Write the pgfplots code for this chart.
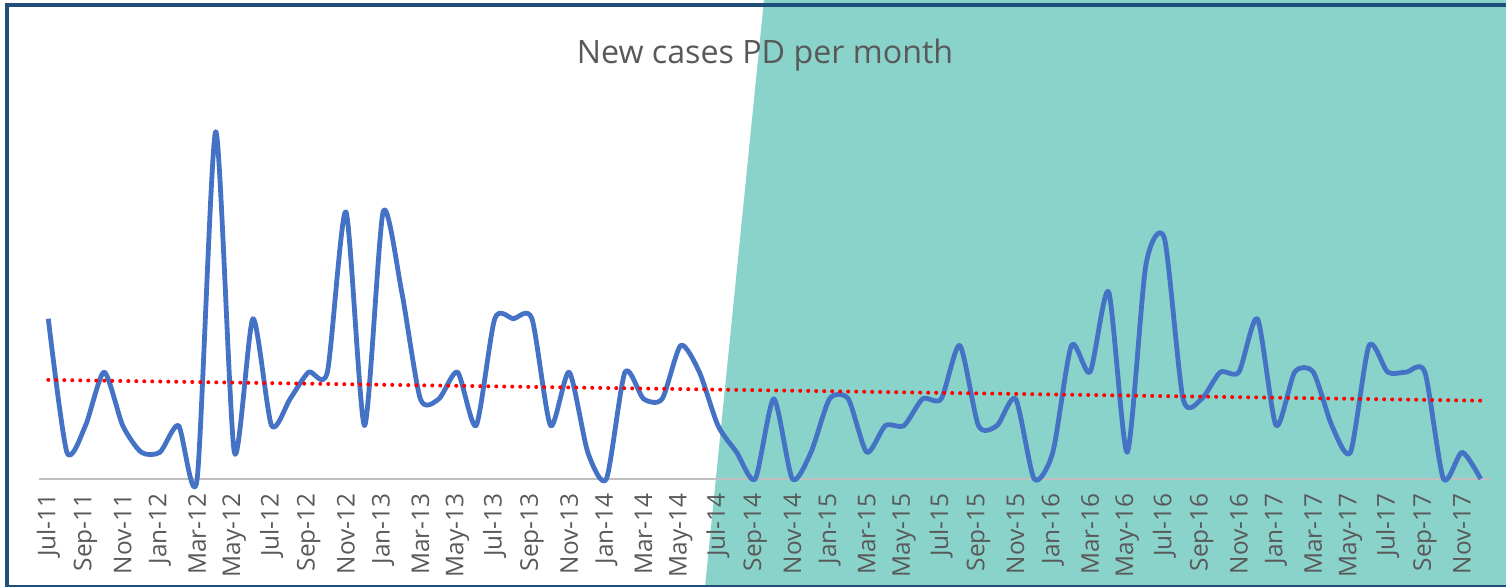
\documentclass[border=0pt]{standalone}
\usepackage{fontspec}
\setmainfont{Open Sans}
\usepackage{pgfplots}
\usepackage{pgfplotstable}
\pgfplotsset{compat=1.18}

\definecolor{bgTeal}{HTML}{8AD3CB}
\definecolor{frameBlue}{HTML}{1F4E79}
\definecolor{lineBlue}{HTML}{4472C4}
\definecolor{trendRed}{HTML}{FF0000}
\definecolor{axisGray}{HTML}{BFBFBF}
\definecolor{textGray}{HTML}{595959}

% new PD cases per month, Jul-11 (i=0) to Dec-17 (i=77)
\pgfplotstableread{
i v
0 6
1 1
2 2
3 4
4 2
5 1
6 1
7 2
8 0
9 13
10 1
11 6
12 2
13 3
14 4
15 4
16 10
17 2
18 10
19 7
20 3
21 3
22 4
23 2
24 6
25 6
26 6
27 2
28 4
29 1
30 0
31 4
32 3
33 3
34 5
35 4
36 2
37 1
38 0
39 3
40 0
41 1
42 3
43 3
44 1
45 2
46 2
47 3
48 3
49 5
50 2
51 2
52 3
53 0
54 1
55 5
56 4
57 7
58 1
59 8
60 9
61 3
62 3
63 4
64 4
65 6
66 2
67 4
68 4
69 2
70 1
71 5
72 4
73 4
74 4
75 0
76 1
77 0
}\pdcases

\begin{document}
\begin{tikzpicture}[x=1pt,y=1pt]
\useasboundingbox (0,0) rectangle (753,293.5);
% background split and frame
\fill[bgTeal] (382,293.5) -- (352.5,0) -- (753,0) -- (753,293.5) -- cycle;
\fill[frameBlue] (2.5,290) rectangle (753,292);
\fill[frameBlue] (2.5,0) rectangle (4.5,292);
\fill[frameBlue] (2.5,0) rectangle (753,1);

\begin{axis}[
    at={(19.5pt,54pt)}, anchor=south west,
    scale only axis,
    width=725.5pt, height=187pt,
    xmin=-0.5, xmax=77.5,
    ymin=0, ymax=14,
    axis y line=none,
    axis x line*=bottom,
    x axis line style={draw=axisGray, line width=1pt, -},
    xtick={0,2,...,76},
    xticklabels={Jul-11,Sep-11,Nov-11,Jan-12,Mar-12,May-12,Jul-12,Sep-12,Nov-12,
        Jan-13,Mar-13,May-13,Jul-13,Sep-13,Nov-13,Jan-14,Mar-14,May-14,Jul-14,
        Sep-14,Nov-14,Jan-15,Mar-15,May-15,Jul-15,Sep-15,Nov-15,Jan-16,Mar-16,
        May-16,Jul-16,Sep-16,Nov-16,Jan-17,Mar-17,May-17,Jul-17,Sep-17,Nov-17},
    major tick length=0pt,
    xticklabel shift=7pt,
    xticklabel style={rotate=90, anchor=east, inner sep=0pt,
        font=\fontsize{12.2}{13}\selectfont, text=textGray},
    clip=false,
]
\addplot[lineBlue, line width=2.4pt, smooth, tension=0.42, line join=round]
    table[x=i, y=v] {\pdcases};
\addplot[trendRed, line width=2pt, line cap=round,
    dash pattern=on 0pt off 4pt]
    table[x=i, y={create col/linear regression={y=v}}] {\pdcases};
\end{axis}

\node[anchor=base, text=textGray, font=\fontsize{16.1}{18}\selectfont]
    at (382.5,261.8) {New cases PD per month};
\end{tikzpicture}
\end{document}
